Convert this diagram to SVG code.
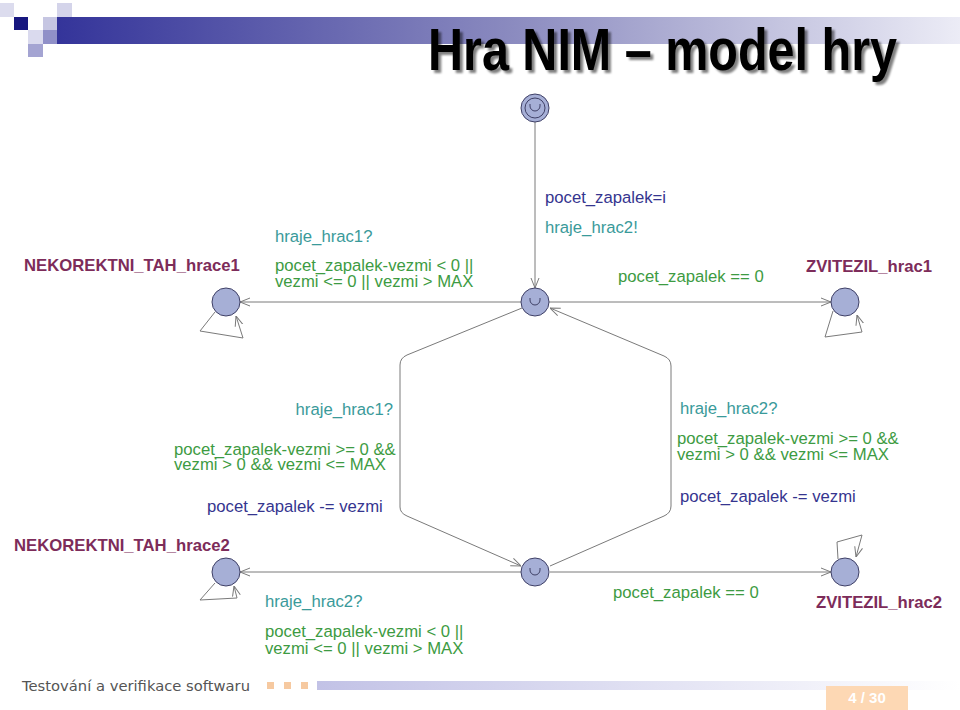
<svg xmlns="http://www.w3.org/2000/svg" width="960" height="710" viewBox="0 0 960 710">
<style>
.lbl{font-family:"Liberation Sans",Arial,sans-serif;font-size:16.7px}
.name{font-family:"Liberation Sans",Arial,sans-serif;font-size:16.7px;font-weight:bold;fill:#7d2c5a}
.sync{fill:#3a9a9a}
.guard{fill:#3d9b42}
.asg{fill:#35358f}
.node{fill:#a6afd6;stroke:#3f4066;stroke-width:1}
.sym{fill:none;stroke:#3f4066;stroke-width:1}
.edge{fill:none;stroke:#7a7a7a;stroke-width:1;marker-end:url(#arr)}
</style>
<defs>
<linearGradient id="hdr" x1="0" y1="0" x2="1" y2="0">
<stop offset="0" stop-color="#34349a"/>
<stop offset="0.5" stop-color="#8a8abf"/>
<stop offset="1" stop-color="#ececf6"/>
</linearGradient>
<linearGradient id="ftr" x1="0" y1="0" x2="1" y2="0">
<stop offset="0" stop-color="#c2c2e6"/>
<stop offset="1" stop-color="#ffffff"/>
</linearGradient>
<filter id="sh" x="-5%" y="-30%" width="115%" height="170%">
<feGaussianBlur in="SourceAlpha" stdDeviation="1.2" result="b"/>
<feOffset in="b" dx="3" dy="3" result="o"/>
<feComponentTransfer in="o" result="s"><feFuncA type="linear" slope="0.5"/></feComponentTransfer>
<feMerge><feMergeNode in="s"/><feMergeNode in="SourceGraphic"/></feMerge>
</filter>
<marker id="arr" viewBox="0 0 10 10" refX="10" refY="5" markerWidth="10" markerHeight="10" markerUnits="userSpaceOnUse" orient="auto">
<path d="M0,1 L10,5 L0,9" fill="none" stroke="#7a7a7a" stroke-width="1"/>
</marker>
</defs>
<rect width="960" height="710" fill="#ffffff"/>
<g id="header">
<rect x="57" y="17" width="903" height="27" fill="url(#hdr)"/>
<rect x="0" y="3" width="14" height="14" fill="#dcdcee"/>
<rect x="14" y="17" width="14" height="13" fill="#17177f"/>
<rect x="43" y="17" width="14" height="13" fill="#c6c6e2"/>
<rect x="57" y="3" width="15" height="14" fill="#d4d4ea"/>
<rect x="28" y="30" width="15" height="14" fill="#dadaee"/>
<rect x="43" y="30" width="14" height="14" fill="#9090c8"/>
<rect x="28" y="44" width="15" height="13" fill="#a4a4d2"/>
<text x="428" y="70" font-family="Liberation Sans,Arial,sans-serif" font-weight="bold" font-size="60" fill="#000" filter="url(#sh)" textLength="469" lengthAdjust="spacingAndGlyphs">Hra NIM – model hry</text>
</g>
<g id="footer">
<text x="22" y="691" font-family="DejaVu Sans,sans-serif" font-size="14" fill="#555" textLength="228" lengthAdjust="spacingAndGlyphs">Testování a verifikace softwaru</text>
<rect x="267" y="682" width="7" height="7" fill="#f6c9a0"/>
<rect x="284" y="682" width="7" height="7" fill="#f6c9a0"/>
<rect x="301" y="682" width="7" height="7" fill="#f6c9a0"/>
<rect x="317" y="681" width="643" height="9" fill="url(#ftr)"/>
<rect x="826" y="686" width="82" height="24" fill="#fdd8b4"/>
<text x="867" y="703" text-anchor="middle" font-family="Liberation Sans,Arial,sans-serif" font-weight="bold" font-size="15" fill="#ffffff">4 / 30</text>
</g>
<g id="connectors">
<path class="edge" d="M535,122 L535,288"/>
<path class="edge" d="M521,302 L240,302"/>
<path class="edge" d="M549,302 L831,302"/>
<path class="edge" d="M522,572 L240,572"/>
<path class="edge" d="M550,572 L831,572"/>
<path class="edge" d="M522,308 L407,355 Q400,358 400,365 L400,507 Q400,513 407,516 L521,566"/>
<path class="edge" d="M550,566 L664,516 Q671,513 671,506 L671,366 Q671,359 664,356 L550,308"/>
<path class="edge" d="M215,312 L200,331 L243,338 L236,316"/>
<path class="edge" d="M833,311 L825,337 L862,332 L857,315"/>
<path class="edge" d="M215,583 L200,600 L237,598 L234,586"/>
<path class="edge" d="M838,559 L837,542 L862,535 L856,557"/>
</g>
<g id="node-init">
<circle class="node" cx="535" cy="108" r="14"/>
<circle class="sym" cx="535" cy="108" r="10"/>
<path class="sym" d="M530,104 v2 a5,5 0 0 0 10,0 v-2"/>
</g>
<g id="node-hub1">
<circle class="node" cx="535" cy="302" r="14"/>
<path class="sym" d="M530,298 v2 a5,5 0 0 0 10,0 v-2"/>
</g>
<g id="node-hub2">
<circle class="node" cx="535" cy="572" r="14"/>
<path class="sym" d="M530,568 v2 a5,5 0 0 0 10,0 v-2"/>
</g>
<g id="node-nekorektni1">
<circle class="node" cx="226" cy="302" r="14"/>
<text class="name" x="24" y="271">NEKOREKTNI_TAH_hrace1</text>
</g>
<g id="node-zvitezil1">
<circle class="node" cx="845" cy="302" r="14"/>
<text class="name" x="806" y="272">ZVITEZIL_hrac1</text>
</g>
<g id="node-nekorektni2">
<circle class="node" cx="226" cy="572" r="14"/>
<text class="name" x="14" y="551">NEKOREKTNI_TAH_hrace2</text>
</g>
<g id="node-zvitezil2">
<circle class="node" cx="845" cy="572" r="14"/>
<text class="name" x="816" y="608">ZVITEZIL_hrac2</text>
</g>
<g id="edge-labels" class="lbl">
<text class="sync" x="275" y="242">hraje_hrac1?</text>
<text class="guard" x="275" y="271">pocet_zapalek-vezmi &lt; 0 ||<tspan x="275" y="287">vezmi &lt;= 0 || vezmi &gt; MAX</tspan></text>
<text class="asg" x="545" y="203">pocet_zapalek=i</text>
<text class="sync" x="545" y="233">hraje_hrac2!</text>
<text class="guard" x="618" y="282">pocet_zapalek == 0</text>
<text class="sync" x="393" y="415" text-anchor="end">hraje_hrac1?</text>
<text class="guard" x="174" y="455">pocet_zapalek-vezmi &gt;= 0 &amp;&amp;<tspan x="174" y="470">vezmi &gt; 0 &amp;&amp; vezmi &lt;= MAX</tspan></text>
<text class="asg" x="207" y="512">pocet_zapalek -= vezmi</text>
<text class="sync" x="680" y="414">hraje_hrac2?</text>
<text class="guard" x="677" y="444">pocet_zapalek-vezmi &gt;= 0 &amp;&amp;<tspan x="677" y="460">vezmi &gt; 0 &amp;&amp; vezmi &lt;= MAX</tspan></text>
<text class="asg" x="680" y="502">pocet_zapalek -= vezmi</text>
<text class="sync" x="265" y="607">hraje_hrac2?</text>
<text class="guard" x="265" y="637">pocet_zapalek-vezmi &lt; 0 ||<tspan x="265" y="654">vezmi &lt;= 0 || vezmi &gt; MAX</tspan></text>
<text class="guard" x="613" y="598">pocet_zapalek == 0</text>
</g>
</svg>
